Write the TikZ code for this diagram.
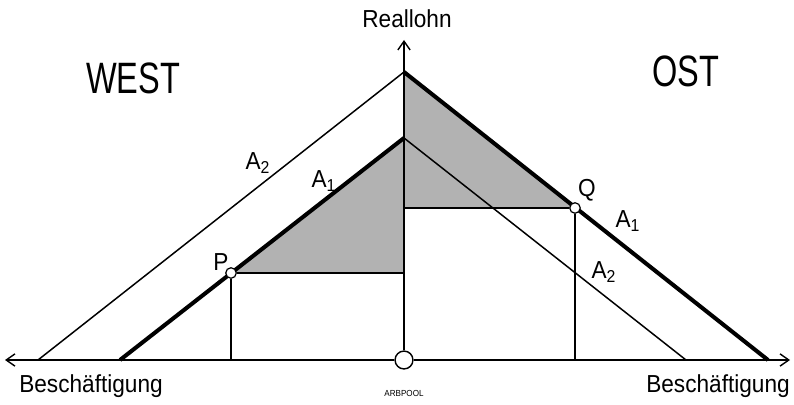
\documentclass[tikz,border=0pt]{standalone}
\usepackage{fontspec}
\setmainfont{Liberation Sans}[FakeStretch=0.92]
\newfontfamily\narrowfont{Liberation Sans}[FakeStretch=0.74]
\usetikzlibrary{arrows.meta,positioning}

\begin{document}
\begin{tikzpicture}[
  x=0.02cm, y=-0.02cm,
  lbl/.style={font=\fontsize{14}{16}\selectfont, inner sep=1pt},
  region/.style={font=\narrowfont\fontsize{25}{28}\selectfont, inner sep=1pt},
  tiny/.style={font=\fontsize{5}{6}\selectfont, inner sep=1pt},
  axis/.style={line width=0.8pt, -{Straight Barb[length=5pt, width=7pt]}},
  thinline/.style={line width=0.85pt},
  thickline/.style={line width=2.3pt},
  guide/.style={line width=0.6pt},
  pt/.style={circle, draw, fill=white, inner sep=0pt, minimum size=6pt, line width=0.7pt},
  dots/.style={fill=black!30},
]
\useasboundingbox (0,0) rectangle (794,405);

% ------------------------------------------------------------ points
\coordinate (top) at (404,72);
\coordinate (low) at (404,138);
\coordinate (w2) at (38,360);
\coordinate (w1) at (120,360);
\coordinate (e1) at (768,360);
\coordinate (e2) at (686,360);
\coordinate (pax) at (404,273);
\coordinate (qax) at (404,208);
\coordinate (pfoot) at (231,360);
\coordinate (qfoot) at (575,360);
\coordinate (left) at (5,360);
\coordinate (right) at (790,360);
\coordinate (up) at (404,40);

% ------------------------------------------------------------ shaded gains
\fill[dots] (231,273) -- (low) -- (pax) -- cycle;
\fill[dots] (top) -- (575,208) -- (qax) -- cycle;

% ------------------------------------------------------------ axes
\node[circle, draw, fill=white, line width=0.8pt, minimum size=18pt*0.567, inner sep=0pt] (pool) at (404,360) {};
\draw[axis] (pool.west) -- (left);
\draw[axis] (pool.east) -- (right);
\draw[axis] (pool.north) -- (up);

% ------------------------------------------------------------ curves
\draw[thinline] (w2) -- (top);
\draw[thickline] (top) -- (e1);
\draw[thickline] (w1) -- (low);
\draw[thinline] (low) -- (e2);

% ------------------------------------------------------------ P and Q
\node[pt] (P) at (231,273) {};
\node[pt] (Q) at (575,208) {};
\draw[guide] (P) -- (pax);
\draw[guide] (P) -- (pfoot);
\draw[guide] (Q) -- (qax);
\draw[guide] (Q) -- (qfoot);

% ------------------------------------------------------------ labels
\node[lbl] (ylab) at (407,19) {Reallohn};
\node[region] (west) at (133,78) {WEST};
\node[region] (ost) at (686,71) {OST};
\node[lbl] (a2w) at (258,163) {A\textsubscript{2}};
\node[lbl] (a1w) at (324,181) {A\textsubscript{1}};
\node[lbl] (plab) at (221,262) {P};
\node[lbl] (qlab) at (587,190) {Q};
\node[lbl] (a1e) at (628,221) {A\textsubscript{1}};
\node[lbl] (a2e) at (604,272) {A\textsubscript{2}};
\node[lbl] (xl) at (91,386) {Beschäftigung};
\node[lbl] (xr) at (718,386) {Beschäftigung};
\node[tiny] (poollab) at (404,393) {ARBPOOL};
\end{tikzpicture}
\end{document}
